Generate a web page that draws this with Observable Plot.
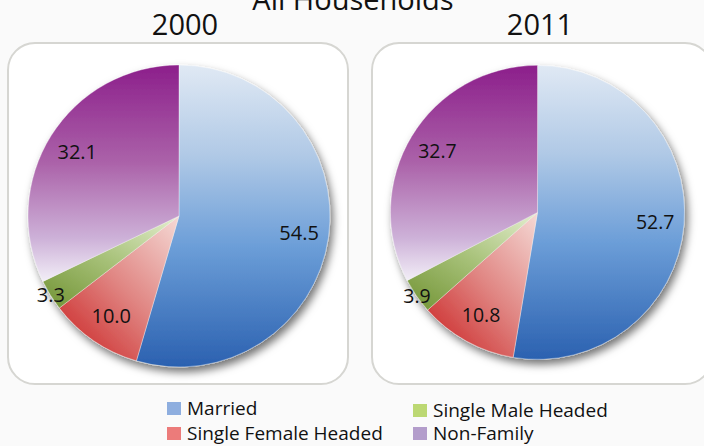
<!DOCTYPE html>
<html><head><meta charset="utf-8">
<script src="https://cdn.jsdelivr.net/npm/d3@7"></script>
<script src="https://cdn.jsdelivr.net/npm/@observablehq/plot@0.6"></script>
<style>
html,body{margin:0;padding:0;}
body{width:704px;height:446px;overflow:hidden;background:#fafafa;position:relative;font-family:"Open Sans",sans-serif;color:#111;}
.title{position:absolute;font-size:29px;line-height:1;white-space:nowrap;transform:translateX(-50%);}
.panel{position:absolute;background:#fff;border:2px solid #d6d6d2;border-radius:28px;box-sizing:border-box;}
.chart{position:absolute;}
.leg{position:absolute;font-size:19px;line-height:1;white-space:nowrap;}
.sw{display:inline-block;width:14px;height:13px;margin-right:6px;}
</style></head><body>
<script>
// ---- data ----
const mainTitle = "All Households";
const years = ["2000", "2011"];
const categories = ["Married", "Single Female Headed", "Single Male Headed", "Non-Family"];
const values2000 = [54.5, 10.0, 3.3, 32.1];
const values2011 = [52.7, 10.8, 3.9, 32.7];

// ---- styles ----
const legendColors = ["#8eaedf", "#ec7b7a", "#bcd873", "#b39dcb"];
const gradients = [
  {x1: 0, y1: 0, x2: 0, y2: 1, stops: [[0, "#e0e9f4"], [0.3, "#b0c9e6"], [0.6, "#6c9ed8"], [1, "#2b61b0"]]},
  {x1: 0.95, y1: 0, x2: 0.1, y2: 1, stops: [[0, "#f4d6d2"], [0.5, "#e08582"], [1, "#cb2626"]]},
  {x1: 0.95, y1: 0, x2: 0.1, y2: 1, stops: [[0, "#e2edcc"], [0.5, "#a8c27a"], [1, "#76973a"]]},
  {x1: 0, y1: 0, x2: 0, y2: 1, stops: [[0, "#8c1f8b"], [0.45, "#ab62a9"], [0.8, "#cdb1d8"], [1, "#f2eef7"]]}
];

const body = document.body;
function addDiv(cls, text, styles) {
  const d = document.createElement("div");
  d.className = cls;
  if (text != null) d.textContent = text;
  Object.assign(d.style, styles);
  body.appendChild(d);
  return d;
}

// title (baseline offset for Open Sans line-height 1 is ~0.888em)
addDiv("title", mainTitle, {left: "353px", top: (10 - 0.888 * 29) + "px"});

function pieMark(values, id) {
  return (index, scales) => {
    const cx = scales.x(0), cy = scales.y(0), r = scales.x(1) - scales.x(0);
    const g = d3.create("svg:g");
    const defs = g.append("defs");
    const f = defs.append("filter").attr("id", id + "sh")
      .attr("x", "-20%").attr("y", "-20%").attr("width", "150%").attr("height", "150%");
    f.append("feDropShadow").attr("dx", 3).attr("dy", 5).attr("stdDeviation", 4.5)
      .attr("flood-color", "#000").attr("flood-opacity", 0.55);
    gradients.forEach((gr, i) => {
      const lg = defs.append("linearGradient").attr("id", `${id}g${i}`)
        .attr("x1", gr.x1).attr("y1", gr.y1).attr("x2", gr.x2).attr("y2", gr.y2);
      gr.stops.forEach(([o, c]) => lg.append("stop").attr("offset", o).attr("stop-color", c));
    });
    const arcs = d3.pie().sort(null).value(d => d)(values);
    const arc = d3.arc().innerRadius(0).outerRadius(r);
    const pg = g.append("g").attr("transform", `translate(${cx},${cy})`).attr("filter", `url(#${id}sh)`);
    pg.selectAll("path").data(arcs).join("path")
      .attr("d", arc)
      .attr("fill", (d, i) => `url(#${id}g${i})`)
      .attr("stroke", "#fff").attr("stroke-width", 0.6).attr("stroke-opacity", 0.6);
    return g.node();
  };
}

function labelData(values) {
  const arcs = d3.pie().sort(null).value(d => d)(values);
  return arcs.map(a => {
    const m = (a.startAngle + a.endAngle) / 2;
    const k = a.value < 5 ? 1.0 : 0.8;
    return {x: k * Math.sin(m), y: k * Math.cos(m), label: a.value.toFixed(1)};
  });
}

const panels = [
  {year: years[0], values: values2000, left: 7, yearX: 185, cx: 172, cy: 174},
  {year: years[1], values: values2011, left: 371, yearX: 540, cx: 171, cy: 175}
];
const W = 342, H = 343, R = 151, TOP = 42;

panels.forEach((p, pi) => {
  addDiv("title", p.year, {left: p.yearX + "px", top: (35 - 0.888 * 29) + "px"});
  addDiv("panel", null, {left: p.left + "px", top: TOP + "px", width: W + "px", height: H + "px"});
  const chart = Plot.plot({
    width: W, height: H,
    marginLeft: p.cx - R, marginRight: W - (p.cx + R),
    marginTop: p.cy - R, marginBottom: H - (p.cy + R),
    x: {domain: [-1, 1], axis: null},
    y: {domain: [-1, 1], axis: null},
    style: {background: "transparent", overflow: "visible", fontFamily: "'Open Sans', sans-serif"},
    marks: [
      pieMark(p.values, "p" + pi),
      Plot.text(labelData(p.values), {x: "x", y: "y", text: "label", fontSize: 20, fill: "#111"})
    ]
  });
  const wrap = addDiv("chart", null, {left: p.left + "px", top: TOP + "px"});
  wrap.appendChild(chart);
});

// legend
const legendPos = [
  {left: 167, base: 416}, {left: 167, base: 441},
  {left: 413, base: 418}, {left: 413, base: 441}
];
categories.forEach((c, i) => {
  const d = addDiv("leg", null, {left: legendPos[i].left + "px", top: (legendPos[i].base - 0.888 * 19) + "px"});
  const sw = document.createElement("span");
  sw.className = "sw";
  sw.style.background = legendColors[i];
  d.appendChild(sw);
  d.appendChild(document.createTextNode(c));
});
</script>
</body></html>
